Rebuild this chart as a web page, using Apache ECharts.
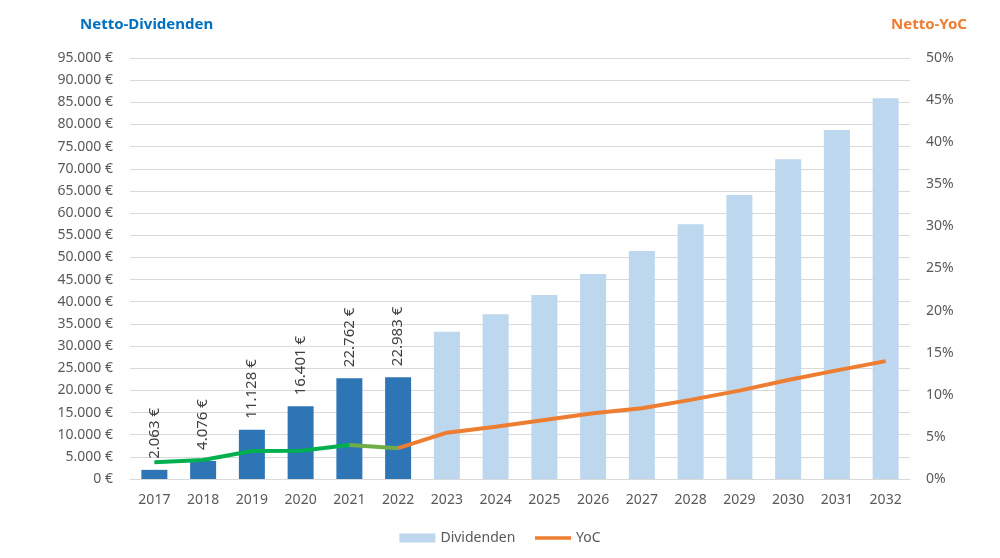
<!DOCTYPE html>
<html>
<head>
<meta charset="utf-8">
<script src="https://cdn.jsdelivr.net/npm/echarts@6/dist/echarts.min.js"></script>
<style>html,body{margin:0;padding:0;background:#fff;}#c{width:1000px;height:558px;}</style>
</head>
<body>
<div id="c"></div>
<script>
var years = ['2017','2018','2019','2020','2021','2022','2023','2024','2025','2026','2027','2028','2029','2030','2031','2032'];
var dividends = [2063, 4076, 11128, 16401, 22762, 22983, 33250, 37200, 41500, 46250, 51450, 57470, 64080, 72130, 78750, 85900];
var yoc = [0.0198, 0.0226, 0.0333, 0.0336, 0.0404, 0.0366, 0.055, 0.062, 0.070, 0.078, 0.084, 0.094, 0.105, 0.1176, 0.129, 0.140];
var actualCount = 6;
var leftTicks = {min: 0, max: 95000, interval: 5000};
var rightTicks = {min: 0, max: 0.5, interval: 0.05};

function fmtEUR(v){
  return String(Math.round(v)).replace(/\B(?=(\d{3})+(?!\d))/g, '.') + ' €';
}

var barData = dividends.map(function(v, i){
  if (i < actualCount) {
    return {value: v, itemStyle: {color: '#2E75B6'},
      label: {show: true, formatter: function(p){ return fmtEUR(p.value); }}};
  }
  return {value: v};
});

function slice(from, to){
  return yoc.map(function(v, i){ return (i >= from && i <= to) ? v : '-'; });
}
var fontFam = 'Noto Sans, sans-serif';

var chart = echarts.init(document.getElementById('c'));
chart.setOption({
  animation: false,
  backgroundColor: '#fff',
  textStyle: {fontFamily: fontFam},
  title: [
    {text: 'Netto-Dividenden', left: 75, top: 12,
     textStyle: {color: '#0070C0', fontSize: 15, fontWeight: 'bold', fontFamily: fontFam}},
    {text: 'Netto-YoC', left: 886, top: 12,
     textStyle: {color: '#ED7D31', fontSize: 15, fontWeight: 'bold', fontFamily: fontFam}}
  ],
  grid: {left: 130, right: 90, top: 58, bottom: 79},
  legend: {
    data: [{name: 'Dividenden', icon: 'rect'}, {name: 'YoC', itemStyle: {opacity: 0}, lineStyle: {width: 3.5}}],
    bottom: 8, left: 'center',
    itemWidth: 36, itemHeight: 9, itemGap: 18,
    textStyle: {color: '#595959', fontSize: 14, fontFamily: fontFam}
  },
  xAxis: {
    type: 'category', data: years,
    axisLine: {lineStyle: {color: '#D9D9D9'}},
    axisTick: {show: false},
    axisLabel: {color: '#595959', fontSize: 14, margin: 14, fontFamily: fontFam}
  },
  yAxis: [
    {type: 'value', min: leftTicks.min, max: leftTicks.max, interval: leftTicks.interval,
     axisLine: {show: false}, axisTick: {show: false},
     splitLine: {lineStyle: {color: '#D9D9D9'}},
     axisLabel: {color: '#595959', fontSize: 14, margin: 17, fontFamily: fontFam, formatter: fmtEUR}},
    {type: 'value', min: rightTicks.min, max: rightTicks.max, interval: rightTicks.interval,
     axisLine: {show: false}, axisTick: {show: false}, splitLine: {show: false},
     axisLabel: {color: '#595959', fontSize: 14, margin: 16, fontFamily: fontFam,
       formatter: function(v){ return Math.round(v * 100) + '%'; }}}
  ],
  series: [
    {name: 'Dividenden', type: 'bar', data: barData, barWidth: 26,
     itemStyle: {color: '#BDD7EE'},
     label: {show: false, position: 'top', rotate: 90, align: 'left', verticalAlign: 'middle',
       distance: 11, color: '#404040', fontSize: 15, fontFamily: fontFam}},
    {name: 'YoC-hist', type: 'line', yAxisIndex: 1, data: slice(0, 4), symbol: 'none',
     lineStyle: {color: '#00B050', width: 4}, itemStyle: {color: '#00B050'}, z: 3},
    {name: 'YoC-trans', type: 'line', yAxisIndex: 1, data: slice(4, 5), symbol: 'none',
     lineStyle: {color: '#70AD47', width: 4}, itemStyle: {color: '#70AD47'}, z: 3},
    {name: 'YoC', type: 'line', yAxisIndex: 1, data: slice(5, 15), symbol: 'none',
     lineStyle: {color: '#ED7D31', width: 4}, itemStyle: {color: '#ED7D31'}, z: 3}
  ]
});
</script>
</body>
</html>
